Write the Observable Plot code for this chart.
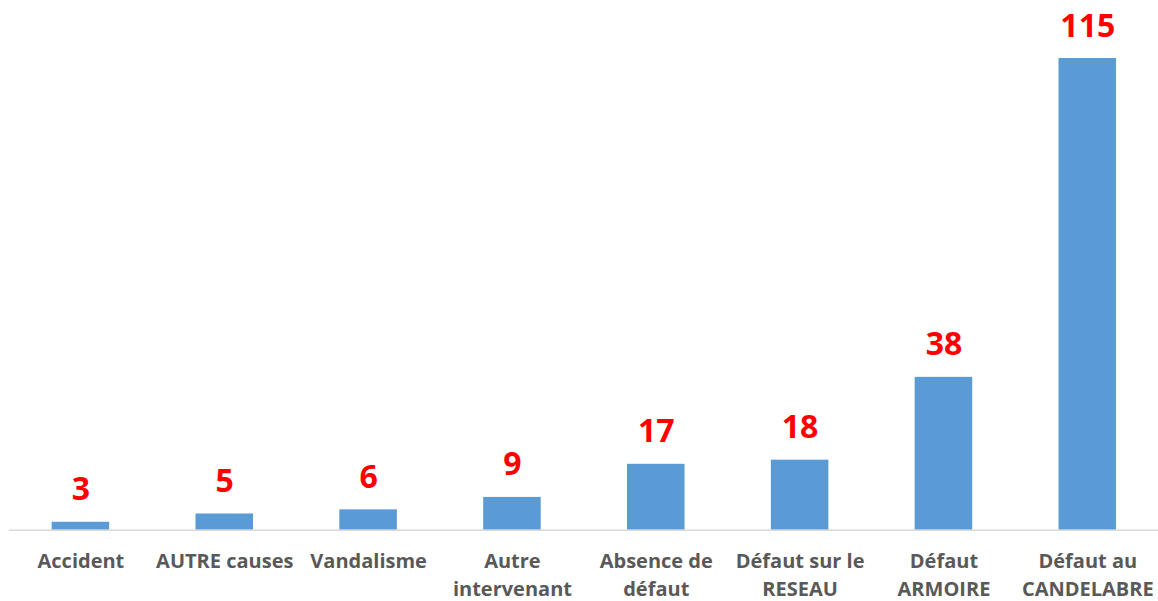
<!DOCTYPE html>
<html>
<head>
<meta charset="utf-8">
<script src="https://cdn.jsdelivr.net/npm/d3@7"></script>
<script src="https://cdn.jsdelivr.net/npm/@observablehq/plot@0.6"></script>
<style>
  html, body { margin: 0; padding: 0; background: #fff; }
  #chart svg { display: block; overflow: visible; }
</style>
</head>
<body>
<div id="chart"></div>
<script>
const categories = [
  "Accident",
  "AUTRE causes",
  "Vandalisme",
  "Autre\nintervenant",
  "Absence de\ndéfaut",
  "Défaut sur le\nRESEAU",
  "Défaut\nARMOIRE",
  "Défaut au\nCANDELABRE"
];
const values = [3, 5, 6, 9, 17, 18, 38, 115];
// Excel value axis (hidden) does not start exactly at 0
const yAxisMin = 1.06;
const yAxisMax = 115;

const data = categories.map((c, i) => ({category: c, value: values[i]}));

const chart = Plot.plot({
  width: 1158,
  height: 601,
  marginLeft: 9,
  marginRight: 0,
  marginTop: 58,
  marginBottom: 71.2,
  style: {background: "#fff", fontFamily: "'Open Sans', sans-serif"},
  x: {domain: categories, range: [8.5, 1159.2], paddingInner: 0.6, paddingOuter: 0.3, round: false, label: null},
  y: {domain: [yAxisMin, yAxisMax], axis: null},
  marks: [
    Plot.barY(data, {x: "category", y: "value", fill: "#5B9BD5", clip: true}),
    Plot.frame({anchor: "bottom", stroke: "#d9d9d9", strokeWidth: 1.5}),
    Plot.text(data, {
      x: "category", y: "value", text: d => String(d.value),
      lineAnchor: "bottom", dy: -22,
      fill: "#FF0000", fontSize: 32, fontWeight: "bold"
    }),
    Plot.axisX({
      tickSize: 0, tickPadding: 18.5, fontSize: 20, fontWeight: "bold",
      fill: "#595959", lineHeight: 1.38, label: null
    })
  ]
});
document.getElementById("chart").appendChild(chart);
</script>
</body>
</html>
